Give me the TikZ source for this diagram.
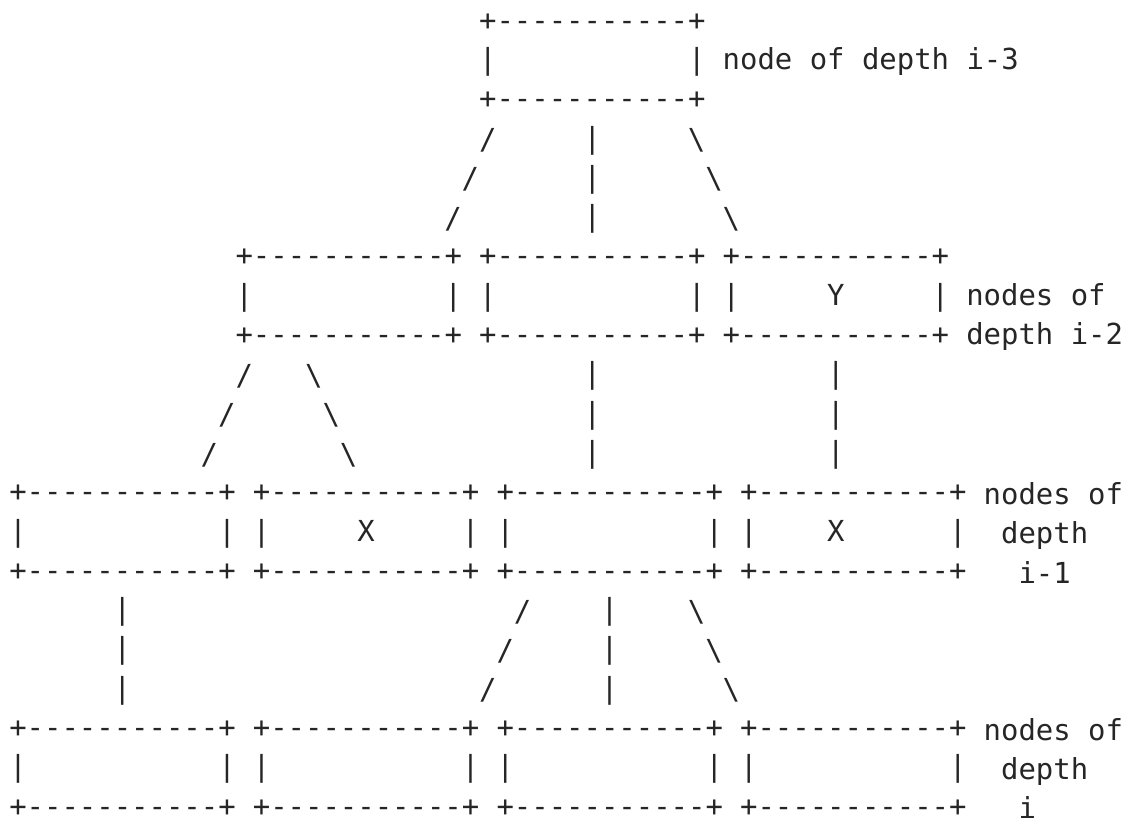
\documentclass[tikz,border=0pt]{standalone}
\usepackage{fontspec}
\setmonofont{DejaVu Sans Mono}
\newcommand{\cellstrut}{\rule[-1pt]{0pt}{12.8pt}}

\begin{document}
\begin{tikzpicture}[x=0.75pt,y=-0.75pt,
 ascii/.style={font=\ttfamily\fontsize{21.7}{29.55}\selectfont,inner sep=0pt,outer sep=0pt,anchor=west,align=left,text=black!85}
]
\useasboundingbox (0,0) rectangle (1122,819);
% boxes: name/column/middle row/middle line
\foreach \nm/\c/\r/\midline in {
 d3/27/1/{|~~~~~~~~~~~|},
 d2a/13/7/{|~~~~~~~~~~~|}, d2b/27/7/{|~~~~~~~~~~~|}, d2c/41/7/{|~~~~~Y~~~~~|},
 d1a/0/13/{|~~~~~~~~~~~|}, d1b/14/13/{|~~~~~X~~~~~|}, d1c/28/13/{|~~~~~~~~~~~|}, d1d/42/13/{|~~~~X~~~~~~|},
 d0a/0/19/{|~~~~~~~~~~~|}, d0b/14/19/{|~~~~~~~~~~~|}, d0c/28/19/{|~~~~~~~~~~~|}, d0d/42/19/{|~~~~~~~~~~~|}}
 \node[ascii] (\nm) at ({9.3+17.4*\c},{22.5+39.3*\r}) {\cellstrut+-----------+\\\cellstrut\midline\\\cellstrut+-----------+};
% links between the levels
\foreach \c/\r in {27/3,26/4,25/5, 13/9,12/10,11/11, 29/15,28/16,27/17}
 \node[ascii] (sl-\c-\r) at ({9.3+17.4*\c},{22.5+39.3*\r}) {\cellstrut/};
\foreach \c/\r in {33/3,33/4,33/5, 33/9,33/10,33/11, 47/9,47/10,47/11, 6/15,6/16,6/17, 34/15,34/16,34/17}
 \node[ascii] (vl-\c-\r) at ({9.3+17.4*\c},{22.5+39.3*\r}) {\cellstrut|};
\foreach \c/\r in {39/3,40/4,41/5, 17/9,18/10,19/11, 39/15,40/16,41/17}
 \node[ascii] (bs-\c-\r) at ({9.3+17.4*\c},{22.5+39.3*\r}) {\cellstrut\textbackslash};
% level labels
\node[ascii] (lbl3) at ({9.3+17.4*41},{22.5+39.3*1}) {\cellstrut node of depth i-3};
\node[ascii] (lbl2) at ({9.3+17.4*55},{22.5+39.3*7.5}) {\cellstrut nodes of\\\cellstrut depth i-2};
\node[ascii] (lbl1) at ({9.3+17.4*56},{22.5+39.3*13}) {\cellstrut nodes of\\\cellstrut~depth\\\cellstrut~~i-1};
\node[ascii] (lbl0) at ({9.3+17.4*56},{22.5+39.3*19}) {\cellstrut nodes of\\\cellstrut~depth\\\cellstrut~~i};
\end{tikzpicture}
\end{document}
